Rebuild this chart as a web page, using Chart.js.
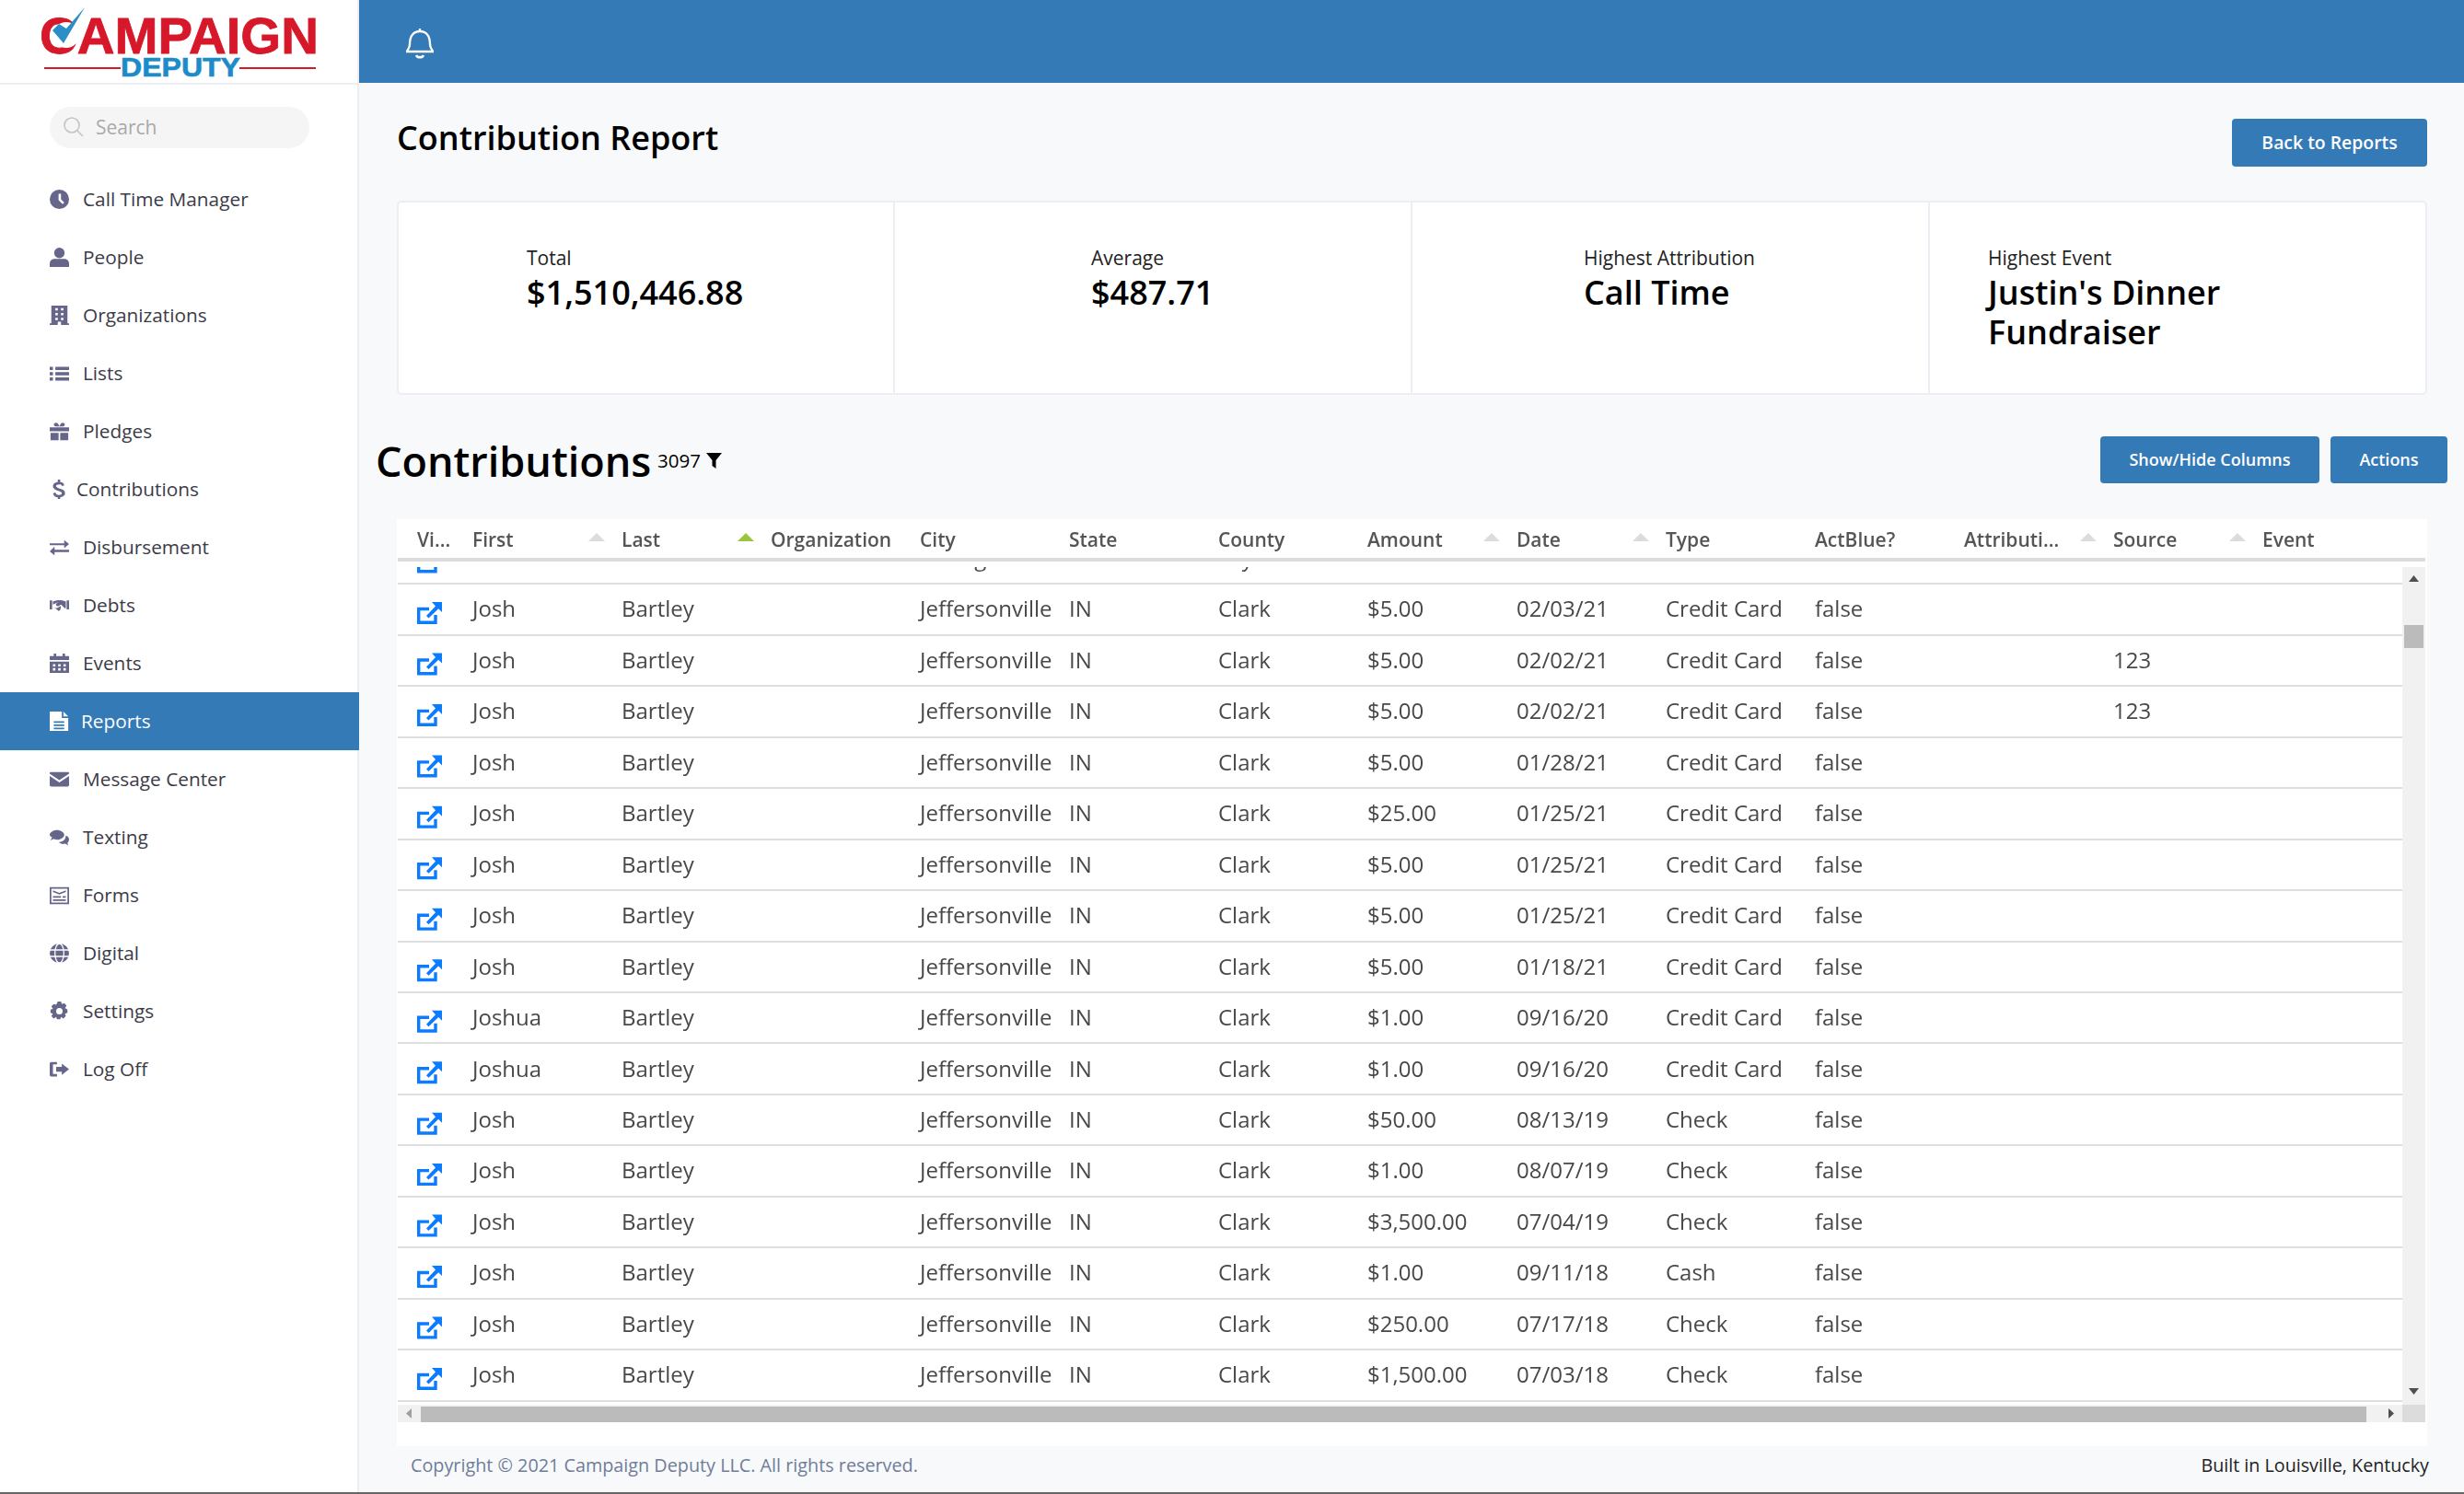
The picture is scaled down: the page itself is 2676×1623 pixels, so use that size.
<!DOCTYPE html>
<html>
<head>
<meta charset="utf-8">
<title>Contribution Report</title>
<script src="https://cdn.jsdelivr.net/npm/chart.js@4/dist/chart.umd.min.js"></script>
<style>
* { box-sizing: border-box; }
html, body { margin: 0; padding: 0; }
body { width: 2676px; height: 1623px; position: relative; overflow: hidden; background: #f8f9fb; font-family: 'Open Sans', sans-serif; color: #000; }
.abs { position: absolute; white-space: nowrap; }
#sidebar { left: 0; top: 0; width: 390px; height: 1623px; background: #fff; border-right: 2px solid #eceef3; }
#logoRule { left: 0; top: 90px; width: 390px; height: 2px; background: #eceef3; }
#topbar { left: 390px; top: 0; width: 2286px; height: 90px; background: #337ab7; }
#search { left: 54px; top: 116px; width: 282px; height: 45px; border-radius: 23px; background: #f5f5f5; color: #a9a9a9; font-size: 21px; line-height: 45px; padding-left: 50px; }
.nav { left: 0; width: 390px; height: 63px; line-height: 63px; font-size: 20.800px; color: #3b3b48; }
.nav.on { background: #337ab7; color: #fff; }
.nav svg { position: absolute; left: 54px; top: 21px; width: 21px; height: 21px; fill: #66668a; }
.nav.on svg { fill: #fff; }
.nav span { position: absolute; top: 0; }
.btn { background: #337ab7; color: #fff; font-weight: 600; font-size: 18px; border-radius: 4px; text-align: center; }
#stats { left: 431px; top: 218px; width: 2205px; height: 211px; background: #fff; border: 2px solid #eceef3; border-radius: 5px; }
.divider { top: 219px; width: 2px; height: 209px; background: #eceef3; }
.statLabel { font-size: 21px; color: #222; line-height: 28px; }
.statValue { font-size: 36px; font-weight: 600; color: #000; line-height: 43px; }
#card { left: 431px; top: 564px; width: 2205px; height: 1007px; background: #fff; }
#tableChart { position: absolute; left: 432px; top: 564px; }
.sb { background: #f1f1f1; }
.thumb { background: #bbb; }
</style>
</head>
<body>
<div class="abs" id="sidebar"></div>
<div class="abs" id="logoRule"></div>
<div class="abs" id="topbar"></div>

<svg class="abs" style="left:0;top:0" width="390" height="90">
  <text x="43" y="58" font-family="Liberation Sans" font-weight="700" font-size="56" textLength="303" lengthAdjust="spacingAndGlyphs" fill="#d7182a" stroke="#d7182a" stroke-width="0.8">CAMPAIGN</text>
  <circle cx="72" cy="38" r="14" fill="#fff"/>
  <path d="M57 33 L69 47 L92 8 L72 31 L64 26 Z" fill="#2b8ec6"/>
  <text x="131" y="83" font-family="Liberation Sans" font-weight="700" font-size="30" textLength="130" lengthAdjust="spacingAndGlyphs" fill="#1b8bc9" stroke="#1b8bc9" stroke-width="0.6">DEPUTY</text>
  <rect x="48" y="73" width="83" height="2" fill="#d7182a"/>
  <rect x="260" y="73" width="83" height="2" fill="#d7182a"/>
</svg>

<svg class="abs" style="left:441px;top:30px" width="30" height="34" viewBox="0 0 30 34" fill="none" stroke="#fff" stroke-width="2.4">
  <path d="M15 1 V4 M4 18 C4 8 9 4 15 4 C21 4 26 8 26 18 C26 23 29 24 29 26 H1 C1 24 4 23 4 18 Z M11 30 C12 33 18 33 19 30"/>
</svg>

<div class="abs" id="search">Search</div>
<svg class="abs" style="left:69px;top:127px" width="22" height="22" viewBox="0 0 22 22" fill="none" stroke="#c4c4c4" stroke-width="1.6"><circle cx="9" cy="9" r="8"/><path d="M15 15 L21 21"/></svg>

<div id="nav"></div>

<div class="abs" style="left:431px;top:125px;font-size:36px;font-weight:600;line-height:50px">Contribution Report</div>
<div class="abs btn" style="left:2424px;top:129px;width:212px;height:52px;line-height:52px;font-size:19.400px">Back to Reports</div>

<div class="abs" id="stats"></div>
<div class="abs divider" style="left:970px"></div>
<div class="abs divider" style="left:1532px"></div>
<div class="abs divider" style="left:2094px"></div>
<div class="abs statLabel" style="left:572px;top:266px">Total</div>
<div class="abs statValue" style="left:572px;top:296px">$1,510,446.88</div>
<div class="abs statLabel" style="left:1185px;top:266px">Average</div>
<div class="abs statValue" style="left:1185px;top:296px">$487.71</div>
<div class="abs statLabel" style="left:1720px;top:266px">Highest Attribution</div>
<div class="abs statValue" style="left:1720px;top:296px">Call Time</div>
<div class="abs statLabel" style="left:2159px;top:266px">Highest Event</div>
<div class="abs statValue" style="left:2159px;top:296px">Justin's Dinner<br>Fundraiser</div>

<div class="abs" style="left:408px;top:470px;font-size:45px;font-weight:600;line-height:62px">Contributions</div>
<div class="abs" style="left:714px;top:486px;font-size:20.500px;line-height:28px">3097</div>
<svg class="abs" style="left:767px;top:492px" width="17" height="17" viewBox="0 0 17 17"><path d="M0 0 H17 L10.5 8 V17 L6.5 14 V8 Z" fill="#000"/></svg>
<div class="abs btn" style="left:2281px;top:474px;width:238px;height:51px;line-height:51px">Show/Hide Columns</div>
<div class="abs btn" style="left:2531px;top:474px;width:127px;height:51px;line-height:51px">Actions</div>

<div class="abs" id="card"></div>
<canvas id="tableChart" width="2202" height="962"></canvas>

<!-- scrollbars sit on top of the chart canvas -->
<div class="abs sb" style="left:2609px;top:616px;width:25px;height:910px"></div>
<div class="abs thumb" style="left:2611px;top:679px;width:21px;height:25px"></div>
<svg class="abs" style="left:2609px;top:616px" width="25" height="910">
  <path d="M12.5 9 L18 16 H7 Z M7 892 H18 L12.5 899 Z" fill="#505050"/>
</svg>
<div class="abs sb" style="left:432px;top:1526px;width:2177px;height:19px"></div>
<div class="abs thumb" style="left:457px;top:1528px;width:2113px;height:17px"></div>
<div class="abs" style="left:2609px;top:1526px;width:25px;height:19px;background:#dcdcdc"></div>
<svg class="abs" style="left:432px;top:1526px" width="2177" height="19">
  <path d="M9 9.5 L15 4 V15 Z" fill="#a0a0a0"/>
  <path d="M2162 4 L2168 9.5 L2162 15 Z" fill="#505050"/>
</svg>

<div class="abs" style="left:446px;top:1578px;font-size:19.800px;line-height:28px;color:#6f7d99">Copyright © 2021 Campaign Deputy LLC. All rights reserved.</div>
<div class="abs" style="right:38px;top:1578px;font-size:19.700px;line-height:28px;color:#222">Built in Louisville, Kentucky</div>
<div class="abs" style="left:0;top:1621px;width:2676px;height:2px;background:#666"></div>

<script>
// Sidebar
const navLabels = ['Call Time Manager', 'People', 'Organizations', 'Lists', 'Pledges', 'Contributions', 'Disbursement', 'Debts', 'Events', 'Reports', 'Message Center', 'Texting', 'Forms', 'Digital', 'Settings', 'Log Off'];
const navIcons = [
    '<path fill-rule="evenodd" d="M12 0a12 12 0 1 0 0 24 12 12 0 0 0 0-24zM11 5h3v7l4 4-2 2-5-5z"/>',
    '<circle cx="12" cy="6.500" r="6.500"/><path d="M0 24v-4c0-4 3-6 6-6h12c3 0 6 2 6 6v4z"/>',
    '<path fill-rule="evenodd" d="M2 0h20v22h2v2H0v-2h2zM7 3v3h3V3zm7 0v3h3V3zM7 9v3h3V9zm7 0v3h3V9zM7 15v3h3v-3zm7 0v3h3v-3zM10 20v4h4v-4z"/>',
    '<path d="M0 4h4v4H0zM7 4h17v4H7zM0 10.500h4v4H0zM7 10.500h17v4H7zM0 17h4v4H0zM7 17h17v4H7z"/>',
    '<path d="M0 7h24v5H0zM1 14h10v9H1zM13 14h10v9H13zM6 2c3-2 5 1 6 4 1-3 3-6 6-4 2 2 0 4-2 4H8C6 6 4 4 6 2z"/>',
    '<path d="M10 0h3v3c3 0 5 2 5 4l-3 1c0-2-2-2-3-2-3 0-4 1-4 2s1 2 4 3c4 1 7 2 7 6 0 3-3 4-6 5v3h-3v-3c-3 0-5-2-6-5l3-1c1 2 2 3 4 3 3 0 4-1 4-2s-1-2-4-3C7 13 4 11 4 8c0-3 3-5 6-5z"/>',
    '<path d="M0 7h18V3l6 5-6 5V9.500H0zM24 15H6v-4l-6 6 6 5v-4h18z"/>',
    '<path d="M0 6h3v11H0zM21 6h3v11h-3zM4 7c3 0 5-2 8-1 3-1 5 1 8 1v8l-1 1-5-5-3 2c-2 1-4-1-3-3l3-2c-2 0-5 3-7 3zM5 14l6 5 2-1 1-4-1-1-3 2c-2 1-4 0-5-1z"/>',
    '<path fill-rule="evenodd" d="M5 0h3v3h8V0h3v3h5v5H0V3h5zM0 10h24v14H0zM4 13v3h3v-3zm6.500 0v3h3v-3zm6.500 0v3h3v-3zM4 18v3h3v-3zm6.500 0v3h3v-3zm6.500 0v3h3v-3z"/>',
    '<path fill-rule="evenodd" d="M0 0h15v8h8v16H0zM17 0l6 6h-6zM5 12v2h13v-2zm0 4v2h13v-2zm0 4v2h13v-2z"/>',
    '<path d="M1 3h22c1 0 1 1 1 2L12 13 0 5c0-1 0-2 1-2zM0 8l12 8 12-8v11c0 1-1 2-2 2H2c-1 0-2-1-2-2z"/>',
    '<path d="M9 3c5 0 9 3 9 6s-4 6-9 6c-1 0-3 0-4-1l-4 2 2-4C1 11 0 10 0 9c0-3 4-6 9-6zM20 10c3 1 4 3 4 5 0 1-1 3-2 4l1 3-4-2c-3 1-6 0-8-2 5 0 9-3 9-8z"/>',
    '<path fill-rule="evenodd" d="M0 2h24v21H0zm2 2v17h20V4zM4 6l8 3 8-3v2l-8 3-8-3zM4 13h10v2H4zm12 0h4v2h-4zM4 17h16v2H4z"/>',
    '<circle cx="12" cy="12" r="12"/><g fill="none" stroke="#fff" stroke-width="1.500"><path d="M0 8H24M0 16H24"/><ellipse cx="12" cy="12" rx="5.500" ry="12"/></g>',
    '<path fill-rule="evenodd" d="M10 0h4l1 3 3-1 3 3-2 3 3 2v4l-3 1 1 3-3 3-3-2-1 3h-4l-1-3-3 2-3-3 2-3-3-1v-4l3-1-2-3 3-3 3 1zM12 8a4 4 0 1 0 0 8 4 4 0 0 0 0-8z"/>',
    '<path d="M2 3h7v3H4v12h5v3H2c-1 0-2-1-2-2V5c0-1 1-2 2-2zM15 5l9 7-9 7v-4H8V9h7z"/>'
];
const navTextLeft = [90, 90, 90, 90, 90, 83, 90, 90, 90, 88, 90, 90, 90, 90, 90, 90];

document.getElementById('nav').innerHTML = navLabels.map((label, i) =>
    `<div class="abs nav${label === 'Reports' ? ' on' : ''}" style="top:${185 + i * 63}px">` +
    `<svg viewBox="0 0 24 24">${navIcons[i]}</svg><span style="left:${navTextLeft[i]}px">${label}</span></div>`
).join('');

// Table data, first row is the one scrolled almost out of view
const columns = ['Vi...', 'First', 'Last', 'Organization', 'City', 'State', 'County', 'Amount', 'Date', 'Type', 'ActBlue?', 'Attributi...', 'Source', 'Event'];
const sortableColumns = ['First', 'Last', 'Amount', 'Date', 'Attributi...', 'Source'];
const activeSortColumn = 'Last';

const first = ['', 'Josh', 'Josh', 'Josh', 'Josh', 'Josh', 'Josh', 'Josh', 'Josh', 'Joshua', 'Joshua', 'Josh', 'Josh', 'Josh', 'Josh', 'Josh', 'Josh'];
const last = ['', 'Bartley', 'Bartley', 'Bartley', 'Bartley', 'Bartley', 'Bartley', 'Bartley', 'Bartley', 'Bartley', 'Bartley', 'Bartley', 'Bartley', 'Bartley', 'Bartley', 'Bartley', 'Bartley'];
const organization = ['', '', '', '', '', '', '', '', '', '', '', '', '', '', '', '', ''];
const city = ['Lexington', 'Jeffersonville', 'Jeffersonville', 'Jeffersonville', 'Jeffersonville', 'Jeffersonville', 'Jeffersonville', 'Jeffersonville', 'Jeffersonville', 'Jeffersonville', 'Jeffersonville', 'Jeffersonville', 'Jeffersonville', 'Jeffersonville', 'Jeffersonville', 'Jeffersonville', 'Jeffersonville'];
const state = ['', 'IN', 'IN', 'IN', 'IN', 'IN', 'IN', 'IN', 'IN', 'IN', 'IN', 'IN', 'IN', 'IN', 'IN', 'IN', 'IN'];
const county = ['Fayette', 'Clark', 'Clark', 'Clark', 'Clark', 'Clark', 'Clark', 'Clark', 'Clark', 'Clark', 'Clark', 'Clark', 'Clark', 'Clark', 'Clark', 'Clark', 'Clark'];
const amount = ['', '$5.00', '$5.00', '$5.00', '$5.00', '$25.00', '$5.00', '$5.00', '$5.00', '$1.00', '$1.00', '$50.00', '$1.00', '$3,500.00', '$1.00', '$250.00', '$1,500.00'];
const date = ['', '02/03/21', '02/02/21', '02/02/21', '01/28/21', '01/25/21', '01/25/21', '01/25/21', '01/18/21', '09/16/20', '09/16/20', '08/13/19', '08/07/19', '07/04/19', '09/11/18', '07/17/18', '07/03/18'];
const type = ['', 'Credit Card', 'Credit Card', 'Credit Card', 'Credit Card', 'Credit Card', 'Credit Card', 'Credit Card', 'Credit Card', 'Credit Card', 'Credit Card', 'Check', 'Check', 'Check', 'Cash', 'Check', 'Check'];
const actBlue = ['', 'false', 'false', 'false', 'false', 'false', 'false', 'false', 'false', 'false', 'false', 'false', 'false', 'false', 'false', 'false', 'false'];
const attribution = ['', '', '', '', '', '', '', '', '', '', '', '', '', '', '', '', ''];
const source = ['', '', '123', '123', '', '', '', '', '', '', '', '', '', '', '', '', ''];
const eventName = ['', '', '', '', '', '', '', '', '', '', '', '', '', '', '', '', ''];

const cellColumns = [first, last, organization, city, state, county, amount, date, type, actBlue, attribution, source, eventName];

// Narrow link column sits left of the regular 162px columns
const linkColumnAt = -60 / 162;
const columnPositions = [linkColumnAt, ...cellColumns.map((_, i) => i)];

const linkIcon = new Path2D('M13 7.500H1.700V22.300H20V14');
const linkArrow = new Path2D('M16 0H27V11L23.200 7.200L12.500 17.500L10 15L20 4.500Z');

const tableCells = {
    id: 'tableCells',
    afterDatasetsDraw(chart) {
        const { ctx, chartArea, scales } = chart;
        ctx.save();

        // sort arrows in the header
        columns.forEach((name, i) => {
            if (!sortableColumns.includes(name)) return;
            const ax = scales.x.getPixelForValue(columnPositions[i]) + 135;
            ctx.fillStyle = name === activeSortColumn ? '#9bc53d' : '#dcdcdc';
            ctx.beginPath();
            ctx.moveTo(ax - 9, 24);
            ctx.lineTo(ax, 15);
            ctx.lineTo(ax + 9, 24);
            ctx.fill();
        });

        // the body scrolls under a small gap below the header rule
        ctx.beginPath();
        ctx.rect(chartArea.left, chartArea.top + 8, chartArea.width, chartArea.height - 8);
        ctx.clip();

        ctx.font = '24px "Open Sans"';
        ctx.fillStyle = '#484848';
        ctx.textBaseline = 'middle';
        ctx.textAlign = 'left';
        chart.data.datasets.forEach((ds, d) => {
            const meta = chart.getDatasetMeta(d);
            meta.data.forEach((pt, r) => {
                if (ds.isLink) {
                    ctx.save();
                    ctx.translate(pt.x, pt.y - 8);
                    ctx.strokeStyle = '#0b7bff';
                    ctx.fillStyle = '#0b7bff';
                    ctx.lineWidth = 3.4;
                    ctx.stroke(linkIcon);
                    ctx.fill(linkArrow);
                    ctx.restore();
                } else if (ds.cells[r]) {
                    ctx.fillText(ds.cells[r], pt.x, pt.y + 1.5);
                }
            });
        });
        ctx.restore();
    }
};

new Chart(document.getElementById('tableChart'), {
    type: 'scatter',
    data: {
        datasets: [
            { isLink: true, cells: [], data: first.map((_, r) => ({ x: linkColumnAt, y: r })) },
            ...cellColumns.map((cells, c) => ({ cells, data: cells.map((_, r) => ({ x: c, y: r })) }))
        ]
    },
    options: {
        responsive: false,
        animation: false,
        devicePixelRatio: 1,
        layout: { padding: 0 },
        elements: { point: { radius: 0, hoverRadius: 0 } },
        events: [],
        plugins: { legend: { display: false }, tooltip: { enabled: false } },
        scales: {
            x: {
                type: 'linear',
                position: 'top',
                min: -0.5,
                max: 13.093,
                afterBuildTicks: axis => { axis.ticks = columnPositions.map(value => ({ value })); },
                afterFit: axis => { axis.height = 44; },
                border: { display: true, color: '#dcdcdc', width: 4 },
                grid: { drawOnChartArea: false, drawTicks: false },
                ticks: {
                    align: 'start',
                    autoSkip: false,
                    maxRotation: 0,
                    padding: 7,
                    color: '#555',
                    font: { family: "'Open Sans'", size: 21, weight: '600' },
                    callback: (value, index) => columns[index]
                }
            },
            y: {
                type: 'linear',
                reverse: true,
                min: 0.027,
                max: 16.577,
                afterBuildTicks: axis => { axis.ticks = first.map((_, r) => ({ value: r + 0.5 })); },
                afterFit: axis => { axis.width = 0; },
                border: { display: false },
                grid: { color: '#dedede', lineWidth: 2, drawTicks: false },
                ticks: { display: false }
            }
        }
    },
    plugins: [tableCells]
});
</script>
</body>
</html>
